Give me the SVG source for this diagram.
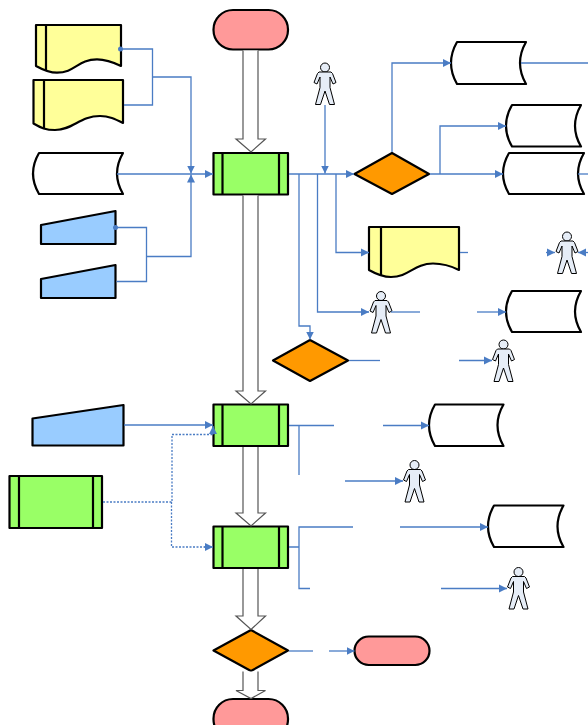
<svg xmlns="http://www.w3.org/2000/svg" width="588" height="725" viewBox="0 0 588 725">
<style>
.n{stroke:#000;stroke-width:2.2;stroke-linejoin:round}
.d{stroke:#000;stroke-width:2.2;fill:none}
.term{fill:#ff9999}.proc{fill:#99ff66}.dec{fill:#ff9900}.doc{fill:#ffff99}.man{fill:#99ccff}.data{fill:#fff}
.c{fill:none;stroke:#4a7cc4;stroke-width:1.3}
.a{marker-end:url(#ah)}
.s{marker-start:url(#dot)}
.dt{stroke-dasharray:2 1.5}
.b{fill:#fff;stroke:#555;stroke-width:1.2}
.p{fill:#e6edf7;stroke:#000;stroke-width:1;stroke-linejoin:round}
</style>
<defs>
<marker id="ah" markerUnits="userSpaceOnUse" markerWidth="9" markerHeight="9" refX="8" refY="4.500" orient="auto"><path d="M0 .5L8 4.500L0 8.500Z" fill="#4a7cc4"/></marker>
<marker id="dot" markerUnits="userSpaceOnUse" markerWidth="6" markerHeight="6" refX="3" refY="3"><circle cx="3" cy="3" r="2.500" fill="#4a7cc4"/></marker>
<g id="person"><circle cx="0" cy="0" r="4.500" class="p"/><path class="p" d="M-6 4.500H6L7.500 6L11 15L8 16.500L5 9.500V20L9.500 37H4.500L0 23.500L-4.500 37H-9.500L-5 20V9.500L-8 16.500L-11 15L-7.500 6Z"/></g>
</defs>
<g id="term1"><rect class="n term" x="213.500" y="10" width="74.500" height="39.500" rx="19.500"/></g>
<g id="proc1"><rect class="n proc" x="213.500" y="153" width="74.500" height="41.500"/><path class="d" d="M222.500 153V194.500M279 153V194.500"/></g>
<g id="proc2"><rect class="n proc" x="213.500" y="404.500" width="74.500" height="41.500"/><path class="d" d="M222.500 404.500V446M279 404.500V446"/></g>
<g id="proc3"><rect class="n proc" x="213.500" y="526.500" width="74.500" height="41.500"/><path class="d" d="M222.500 526.500V568M279 526.500V568"/></g>
<g id="proc4"><rect class="n proc" x="9.500" y="476" width="92.500" height="52"/><path class="d" d="M19 476V528M93 476V528"/></g>
<g id="dec1"><path class="n dec" d="M354.500 174L392 153L429 174L392 194Z"/></g>
<g id="dec2"><path class="n dec" d="M273 360.500L310 340L348 360.500L310 381Z"/></g>
<g id="dec3"><path class="n dec" d="M213.500 650.500L251 630L288 650.500L251 671Z"/></g>
<g id="doc1"><path class="n doc" d="M36 25H121V66C113 62 106 59.300 97 59.300C78 59.300 75 72.700 57 72.700C50 72.700 45 71 36 66Z"/><path class="d" d="M46 25V71"/></g>
<g id="doc2"><path class="n doc" d="M33.500 80H123V123C115 119 109 116 100 116C80 116 73 130 55 130C46 130 41 128 33.500 123.500Z"/><path class="d" d="M44 80V128"/></g>
<g id="doc3"><path class="n doc" d="M369 227H459V270C451 266 443 263.500 433 263.500C414 263.500 409 277 391 277C382 277 376 274 369 270Z"/><path class="d" d="M381 227V275"/></g>
<g id="man1"><path class="n man" d="M41 225L115.500 211V244H41Z"/></g>
<g id="man2"><path class="n man" d="M41 279L115.500 265V298H41Z"/></g>
<g id="man3"><path class="n man" d="M32.500 418.500L123.500 405V445.500H32.500Z"/></g>
<g id="data1"><path class="n data" d="M39 153H123Q111 173.500 123 194H39Q27 173.500 39 153Z"/></g>
<g id="data2"><path class="n data" d="M457 42H526Q514 63 526 84H457Q445 63 457 42Z"/></g>
<g id="data3"><path class="n data" d="M512 105H581Q569 126 581 146.500H512Q500 126 512 105Z"/></g>
<g id="data4"><path class="n data" d="M509 153H584Q572 173.500 584 194H509Q497 173.500 509 153Z"/></g>
<g id="data5"><path class="n data" d="M512 291H581Q569 311.500 581 332H512Q500 311.500 512 291Z"/></g>
<g id="data6"><path class="n data" d="M435 404.500H503.500Q491.500 425 503.500 446H435Q423 425 435 404.500Z"/></g>
<g id="data7"><path class="n data" d="M494 505.500H563.500Q551.500 526.500 563.500 547H494Q482 526.500 494 505.500Z"/></g>
<g id="term2"><rect class="n term" x="354.500" y="636.500" width="75" height="28.500" rx="14.250"/></g>
<g id="term3"><rect class="n term" x="213.500" y="699" width="74.500" height="40" rx="19.500"/></g>
<g id="person1"><use href="#person" x="325" y="67.500"/></g>
<g id="person2"><use href="#person" x="567" y="236.500"/></g>
<g id="person3"><use href="#person" x="381" y="296"/></g>
<g id="person4"><use href="#person" x="503.500" y="344.500"/></g>
<g id="person5"><use href="#person" x="414.500" y="465"/></g>
<g id="person6"><use href="#person" x="518.500" y="572"/></g>
<g id="connectors">
<path class="b" d="M243 50.500V139H236L251 152L265.500 139H258V50.500"/>
<path class="b" d="M243 195.500V391H236L251 404L265.500 391H258V195.500"/>
<path class="b" d="M243 447V513H236L251 526L265.500 513H258V447"/>
<path class="b" d="M243 569V616H236L251 629.500L265.500 616H258V569"/>
<path class="b" d="M243 671.500V690.500H236L251 698.500L265.500 690.500H258V671.500"/>
<path class="c s" d="M120.500 49H152.500V105H124"/>
<path class="c a" d="M152.500 77H191V173.500"/>
<path class="c a" d="M117 174H213"/>
<path class="c s" d="M115.500 227.500H146.500V281.500H116.500"/>
<path class="c a" d="M146.500 256.500H191V174.500"/>
<path class="c a" d="M289 174H354"/>
<path class="c a" d="M325 105V173.500"/>
<path class="c a" d="M392 152V63H451"/>
<path class="c a" d="M430 174H503"/>
<path class="c a" d="M440 174V126H506"/>
<path class="c" d="M521 63H588"/>
<path class="c" d="M578 174H588"/>
<path class="c a" d="M336 174V252.500H369"/>
<path class="c a" d="M317.500 174V312H369"/>
<path class="c a" d="M299 174V326H310V339.500"/>
<path class="c" d="M460 252.500H468"/>
<path class="c a" d="M546 252.500H555"/>
<path class="c a" d="M588 252.500H578"/>
<path class="c" d="M391 312H420"/>
<path class="c a" d="M477 312H506"/>
<path class="c" d="M349 360.500H380"/>
<path class="c a" d="M459 360.500H492"/>
<path class="c a" d="M124 425H213"/>
<path class="c" d="M289 425.500H334M299 425.500V475"/>
<path class="c a" d="M383 425.500H429"/>
<path class="c a" d="M345 481H403"/>
<path class="c" d="M289 547H299M353 527H299V588.500H310"/>
<path class="c a" d="M400 527H488"/>
<path class="c a" d="M441 588.500H507"/>
<path class="c" d="M289 651H313"/>
<path class="c a" d="M329 651H354.500"/>
<path class="c dt" d="M103 502H172V434.500H213"/>
<path class="c a" d="M213 434.500V426"/>
<path class="c dt" d="M171.500 502V547H206"/>
<path class="c a" d="M204 547H213"/>
</g>
</svg>
